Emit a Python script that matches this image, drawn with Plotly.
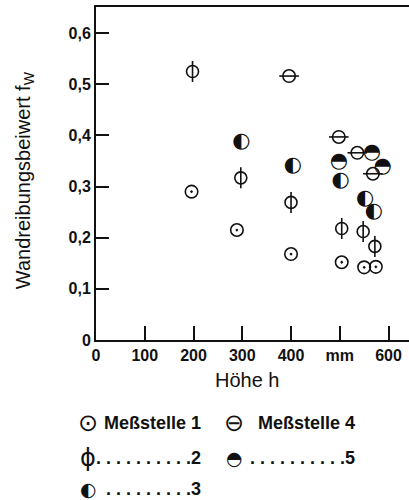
import plotly.graph_objects as go

# --- data ---
h1 = [196, 289, 400, 504, 550, 574]
f1 = [0.290, 0.215, 0.168, 0.152, 0.142, 0.143]
h2 = [198, 297, 400, 504, 548, 572]
f2 = [0.525, 0.317, 0.269, 0.218, 0.212, 0.183]
h3 = [298, 404, 502, 552, 570]
f3 = [0.388, 0.340, 0.312, 0.276, 0.251]
h4 = [396, 498, 536, 568]
f4 = [0.516, 0.397, 0.366, 0.325]
h5 = [498, 566, 588]
f5 = [0.349, 0.367, 0.339]

x_tickvals = [0, 100, 200, 300, 400, 500, 600]
x_ticktext = ["0", "100", "200", "300", "400", "mm", "600"]
y_tickvals = [0, 0.1, 0.2, 0.3, 0.4, 0.5, 0.6]
y_ticktext = ["0", "0,1", "0,2", "0,3", "0,4", "0,5", "0,6"]

legend_rows = [
    ("\u2299", "Meßstelle 1", "\u2296", "Meßstelle 4"),
    ("\u0278", ". . . . . . . . . .2", "\u25d3", ". . . . . . . . . .5"),
    ("\u25d0", ". . . . . . . . .3", None, None),
]

BLACK = "#111111"
TICKFONT = dict(family="Liberation Sans, Arial, sans-serif", size=16, color=BLACK, weight="bold")
TITLEFONT = dict(family="Liberation Sans, Arial, sans-serif", size=20, color=BLACK)
LEGFONT = dict(family="Liberation Sans, Arial, sans-serif", size=18, color=BLACK, weight="bold")
SYMFONT = dict(family="DejaVu Sans, sans-serif", size=21, color=BLACK)

fig = go.Figure()

# Messstelle 1: circle with dot
fig.add_trace(go.Scatter(x=h1, y=f1, mode="markers", name="Meßstelle 1",
                         marker=dict(symbol="circle-open-dot", size=12.5, color=BLACK,
                                     line=dict(width=1.6, color=BLACK))))
# Messstelle 2: circle with vertical stroke
fig.add_trace(go.Scatter(x=h2, y=f2, mode="markers", name="Meßstelle 2",
                         marker=dict(symbol="circle-open", size=12, color=BLACK,
                                     line=dict(width=1.6, color=BLACK))))
fig.add_trace(go.Scatter(x=h2, y=f2, mode="markers", showlegend=False,
                         marker=dict(symbol="line-ns-open", size=15, color=BLACK,
                                     line=dict(width=1.6, color=BLACK))))
# Messstelle 3: left half filled
fig.add_trace(go.Scatter(x=h3, y=f3, mode="text", name="Meßstelle 3",
                         text=["\u25d0"] * len(h3), textposition="middle center",
                         textfont=SYMFONT))
# Messstelle 4: circle with horizontal stroke
fig.add_trace(go.Scatter(x=h4, y=f4, mode="markers", name="Meßstelle 4",
                         marker=dict(symbol="circle-open", size=12.5, color=BLACK,
                                     line=dict(width=1.6, color=BLACK))))
fig.add_trace(go.Scatter(x=h4, y=f4, mode="markers", showlegend=False,
                         marker=dict(symbol="line-ew-open", size=14, color=BLACK,
                                     line=dict(width=1.6, color=BLACK))))
# Messstelle 5: upper half filled
fig.add_trace(go.Scatter(x=h5, y=f5, mode="text", name="Meßstelle 5",
                         text=["\u25d3"] * len(h5), textposition="middle center",
                         textfont=SYMFONT))

annotations = [
    dict(text="Wandreibungsbeiwert f<sub>W</sub>", textangle=-90, xref="paper", yref="paper",
         x=-0.23, y=0.48, showarrow=False, font=TITLEFONT, xanchor="center", yanchor="middle"),
    dict(text="Höhe h", xref="paper", yref="paper", x=0.483, y=-0.12, showarrow=False,
         font=TITLEFONT, xanchor="center", yanchor="middle"),
]

LEGSYM = dict(family="DejaVu Sans, sans-serif", size=24, color=BLACK)
LEGHALF = dict(family="DejaVu Sans, sans-serif", size=19, color=BLACK)
row_y = [-0.249, -0.354, -0.447]
for (s1, t1, s2, t2), yy in zip(legend_rows, row_y):
    f1sym = LEGHALF if s1 in ("\u25d0", "\u25d3") else LEGSYM
    annotations.append(dict(text=s1, xref="paper", yref="paper", x=-0.025, y=yy, showarrow=False,
                            font=f1sym, xanchor="center", yanchor="middle"))
    annotations.append(dict(text=t1, xref="paper", yref="paper", x=0.342, y=yy, showarrow=False,
                            font=LEGFONT, xanchor="right", yanchor="middle"))
    if s2:
        f2sym = LEGHALF if s2 in ("\u25d0", "\u25d3") else LEGSYM
        annotations.append(dict(text=s2, xref="paper", yref="paper", x=0.441, y=yy, showarrow=False,
                                font=f2sym, xanchor="center", yanchor="middle"))
        annotations.append(dict(text=t2, xref="paper", yref="paper", x=0.834, y=yy, showarrow=False,
                                font=LEGFONT, xanchor="right", yanchor="middle"))

fig.update_layout(
    width=409, height=500,
    margin=dict(l=96, r=0, t=7, b=160),
    paper_bgcolor="white", plot_bgcolor="white",
    showlegend=False,
    annotations=annotations,
    xaxis=dict(range=[0, 642], tickvals=x_tickvals, ticktext=x_ticktext,
               ticks="inside", ticklen=14, tickwidth=1.8, tickcolor=BLACK,
               showline=True, linewidth=2, linecolor=BLACK, mirror=True,
               showgrid=False, zeroline=False, tickfont=TICKFONT),
    yaxis=dict(range=[0, 0.651], tickvals=y_tickvals, ticktext=y_ticktext,
               ticks="inside", ticklen=13, tickwidth=1.8, tickcolor=BLACK,
               showline=True, linewidth=2, linecolor=BLACK, mirror=False,
               showgrid=False, zeroline=False, tickfont=TICKFONT,
               ticklabelstandoff=0),
)

fig.write_html("out.html", config={"displayModeBar": False},
               post_script="document.body.style.margin='0';")
